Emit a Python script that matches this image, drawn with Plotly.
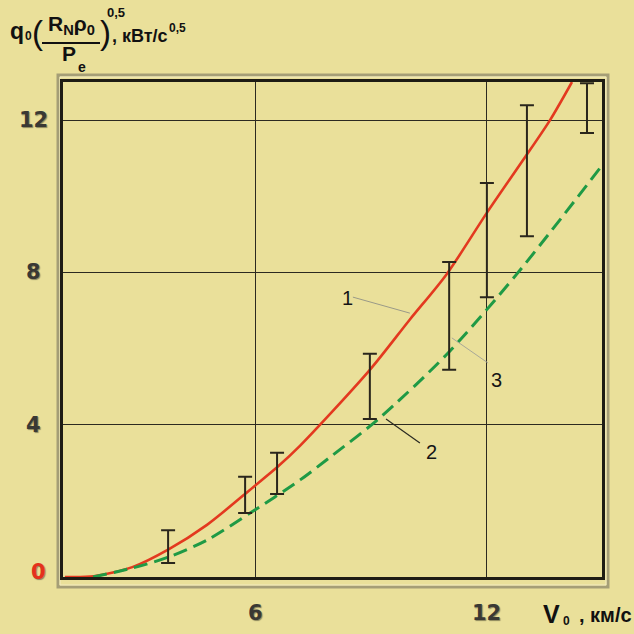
import plotly.graph_objects as go

# ---- data -------------------------------------------------------------
# curve 1 (red, solid)
v1 = [1.05, 1.8, 2.8, 3.73, 4.74, 5.94, 6.56, 7.16, 8.97, 10.0, 10.97, 12.0, 12.95, 13.65, 14.22]
q1 = [0.0, 0.02, 0.26, 0.72, 1.37, 2.36, 2.88, 3.45, 5.44, 6.75, 7.96, 9.55, 10.95, 12.0, 13.0]

# curve 2 (green, dashed)
v2 = [1.78, 2.82, 3.73, 4.74, 5.86, 7.16, 7.94, 9.16, 10.97, 12.79, 14.95]
q2 = [0.0, 0.24, 0.52, 0.97, 1.68, 2.55, 3.15, 4.12, 5.85, 7.96, 10.74]

# measured ranges (3)
v_exp = [3.73, 5.73, 6.56, 8.97, 11.03, 12.01, 13.05, 14.61]
q_low = [0.37, 1.68, 2.18, 4.15, 5.44, 7.35, 8.95, 11.66]
q_high = [1.23, 2.63, 3.26, 5.86, 8.27, 10.35, 12.39, 12.97]

x_ticks = [6, 12]
y_ticks = [0, 4, 8, 12]
x_tick_labels = ["6", "12"]
y_tick_labels = ["0", "4", "8", "12"]

# ---- layout geometry (pixels) ----------------------------------------
W, H = 634, 634
L, R, T, B = 63, 602, 82, 577


def px(x):
    return (x - L) / (R - L)


def py(y):
    return (B - y) / (B - T)


BG = "#eae09a"
INK = "#1e1c14"
fig = go.Figure()

fig.add_trace(go.Scatter(
    x=v1, y=q1, mode="lines", line=dict(color="#e3391f", width=2.6, shape="spline", smoothing=0.8),
    hoverinfo="skip", showlegend=False))
fig.add_trace(go.Scatter(
    x=v2, y=q2, mode="lines",
    line=dict(color="#1f9a45", width=3, dash="14px,7px", shape="spline", smoothing=0.8),
    hoverinfo="skip", showlegend=False))

mid = [(a + b) / 2 for a, b in zip(q_low, q_high)]
half = [(b - a) / 2 for a, b in zip(q_low, q_high)]
fig.add_trace(go.Scatter(
    x=v_exp, y=mid, mode="markers", marker=dict(size=1, opacity=0),
    error_y=dict(type="data", array=half, symmetric=True, color="#2a261c", thickness=2, width=7),
    cliponaxis=False, hoverinfo="skip", showlegend=False))

tick_font = dict(family="DejaVu Sans", size=21, color="#3a3934", weight="bold",
                 shadow="1px 1px 1px rgba(0,0,0,0.4)")
annotations = []
for val, lab in zip(y_ticks, y_tick_labels):
    f = dict(tick_font)
    shift = 0
    if val == 0:
        f["color"] = "#e5321c"
        shift = 5
    annotations.append(dict(text=lab, x=px(33) if val else px(38), xref="paper", y=val, yref="y",
                            yshift=shift, showarrow=False, font=f, xanchor="center", yanchor="middle"))
for val, lab in zip(x_ticks, x_tick_labels):
    annotations.append(dict(text=lab, x=val, xref="x", y=py(613), yref="paper",
                            showarrow=False, font=tick_font, xanchor="center", yanchor="middle"))


def txt(s, x, y, size, anchor="center", bold=True, color="#111111"):
    annotations.append(dict(
        text=s, x=px(x), y=py(y), xref="paper", yref="paper", showarrow=False,
        xanchor=anchor, yanchor="middle",
        font=dict(family="Liberation Sans", size=size, color=color,
                  weight="bold" if bold else "normal")))


# axis title for q
txt("q", 17, 31, 23)
txt("0", 28, 36, 12)
txt("(", 37, 32, 33, bold=False)
txt("R<sub>N</sub>ρ<sub>0</sub>", 71, 25, 21)
txt("P", 69, 53, 21)
txt("e", 82, 67, 14)
txt(")", 105, 32, 33, bold=False)
txt("0,5", 116, 12.5, 13)
txt(", кВт/с", 110, 36, 18, anchor="left")
txt("0,5", 167, 28, 12, anchor="left")

# axis title for V
txt("V", 551, 614, 25)
txt("0", 566, 621, 12)
txt(", км/с", 634, 615, 20, anchor="right")

# curve labels
for lab, lx, ly in [("1", 8.38, 7.33), ("2", 10.56, 3.28), ("3", 12.25, 5.17)]:
    annotations.append(dict(text=lab, x=lx, y=ly, xref="x", yref="y", showarrow=False,
                            font=dict(family="Liberation Sans", size=20, color="#151515")))

shapes = [
    # fraction bar
    dict(type="line", xref="paper", yref="paper", x0=px(42), x1=px(100), y0=py(43), y1=py(43),
         line=dict(color="#111111", width=2)),
    # outer frame
    dict(type="rect", xref="paper", yref="paper", x0=px(58), x1=px(608), y0=py(587), y1=py(75),
         line=dict(color="#a59e76", width=3), layer="below"),
    dict(type="rect", xref="paper", yref="paper", x0=px(60), x1=px(606), y0=py(585), y1=py(77),
         line=dict(color="#f3ecc0", width=1), layer="below"),
    # leader lines
    dict(type="line", x0=8.53, y0=7.35, x1=10.01, y1=6.93, line=dict(color="#9a9a88", width=1)),
    dict(type="line", x0=9.39, y0=4.15, x1=10.27, y1=3.52, line=dict(color="#2a2a22", width=1.2)),
    dict(type="line", x0=11.10, y0=6.28, x1=12.04, y1=5.62, line=dict(color="#a8a898", width=1)),
]

fig.update_layout(
    width=W, height=H,
    margin=dict(l=L, r=W - R, t=T, b=H - B),
    paper_bgcolor=BG, plot_bgcolor=BG,
    annotations=annotations, shapes=shapes,
    xaxis=dict(range=[1, 15], tickvals=x_ticks, showticklabels=False, ticks="",
               showgrid=True, gridcolor="#2c2a20", gridwidth=1.4, zeroline=False,
               showline=True, mirror=True, linecolor=INK, linewidth=2.5),
    yaxis=dict(range=[0, 13], tickvals=y_ticks, showticklabels=False, ticks="",
               showgrid=True, gridcolor="#2c2a20", gridwidth=1.4, zeroline=False,
               showline=True, mirror=True, linecolor=INK, linewidth=2.5),
)

fig.write_html("out.html")
